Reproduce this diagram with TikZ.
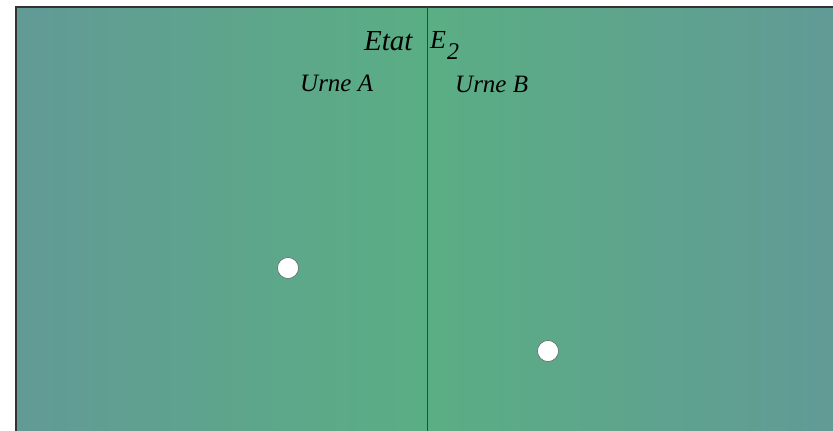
\documentclass[tikz,border=0pt]{standalone}
\usepackage{fontspec}
\setmainfont{Liberation Serif}
\definecolor{urneedge}{RGB}{98,154,150}
\definecolor{urnemid}{RGB}{90,174,132}
\definecolor{cadre}{HTML}{333333}
\begin{document}
\begin{tikzpicture}[x=1pt,y=-1pt,
  every node/.style={inner sep=0pt,anchor=base west},
  etiquette/.style={font=\fontsize{25}{30}\selectfont\itshape},
  boule/.style={circle,draw=black!70,fill=white,minimum size=21pt,anchor=center}]
\useasboundingbox (0,0) rectangle (833,431);
\shade[left color=urneedge,right color=urneedge,middle color=urnemid] (16,7) rectangle (838,440);
\draw[cadre,line width=1.5pt] (16,440)--(16,7)--(838,7);
\draw[black!75,line width=0.9pt] (427,7)--(427,440);
\node[etiquette,font=\fontsize{29}{34}\selectfont\itshape] (etat) at (364,50) {Etat};
\node[etiquette,font=\fontsize{26}{30}\selectfont\itshape] (e) at (430,48) {E};
\node[etiquette,font=\fontsize{24}{28}\selectfont\itshape] (indice) at (447,59) {2};
\node[etiquette] (urneA) at (300,91) {Urne A};
\node[etiquette] (urneB) at (455,92) {Urne B};
\node[boule] (b1) at (288,268) {};
\node[boule] (b2) at (548,351) {};
\end{tikzpicture}
\end{document}
